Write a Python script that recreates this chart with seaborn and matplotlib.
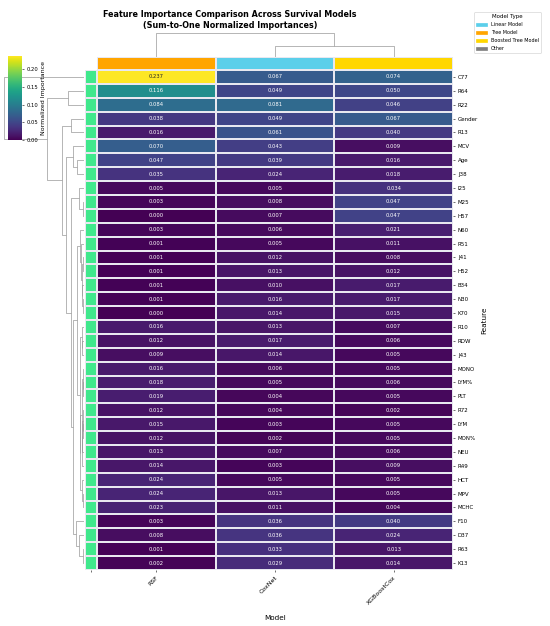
import numpy as np
import pandas as pd
import matplotlib
matplotlib.use('Agg')
import matplotlib.pyplot as plt
from matplotlib.patches import Patch
from scipy.cluster import hierarchy
import seaborn as sns

features = ['C77', 'R64', 'R22', 'Gender', 'R13', 'MCV', 'Age', 'J38', 'I25', 'M25',
            'H57', 'N60', 'R51', 'J41', 'B34', 'N30', 'K70', 'H52', 'R10', 'RDW',
            'J43', 'MONO', 'LYM%', 'PLT', 'R72', 'LYM', 'MON%', 'NEU', 'R49', 'HCT',
            'MPV', 'MCHC', 'F10', 'D37', 'R63', 'K13']
rsf = [0.237, 0.116, 0.084, 0.038, 0.016, 0.070, 0.047, 0.035, 0.005, 0.003,
       0.000, 0.003, 0.001, 0.001, 0.001, 0.001, 0.000, 0.001, 0.016, 0.012,
       0.009, 0.016, 0.018, 0.019, 0.012, 0.015, 0.012, 0.013, 0.014, 0.024,
       0.024, 0.023, 0.003, 0.008, 0.001, 0.002]
coxnet = [0.067, 0.049, 0.081, 0.049, 0.061, 0.043, 0.039, 0.024, 0.005, 0.008,
          0.007, 0.006, 0.005, 0.012, 0.010, 0.016, 0.014, 0.013, 0.013, 0.017,
          0.014, 0.006, 0.005, 0.004, 0.004, 0.003, 0.002, 0.007, 0.003, 0.005,
          0.013, 0.011, 0.036, 0.036, 0.033, 0.029]
xgb = [0.074, 0.050, 0.046, 0.067, 0.040, 0.009, 0.016, 0.018, 0.034, 0.047,
       0.047, 0.021, 0.011, 0.008, 0.017, 0.017, 0.015, 0.012, 0.007, 0.006,
       0.005, 0.005, 0.006, 0.005, 0.002, 0.005, 0.005, 0.006, 0.009, 0.005,
       0.005, 0.004, 0.040, 0.024, 0.013, 0.014]
models = ['RSF', 'CoxNet', 'XGBoostCox']
model_type = {'RSF': 'Tree Model', 'CoxNet': 'Linear Model', 'XGBoostCox': 'Boosted Tree Model'}
type_colors = {'Linear Model': '#5BCFEA', 'Tree Model': '#FFA500',
               'Boosted Tree Model': '#FFD700', 'Other': '#808080'}

imp = pd.DataFrame({'RSF': rsf, 'CoxNet': coxnet, 'XGBoostCox': xgb}, index=features)
imp.index.name = 'Feature'
imp.columns.name = 'Model'

col_colors = pd.Series([type_colors[model_type[m]] for m in models], index=models)
row_colors = pd.Series(['#40E88C'] * len(features), index=features)

# same tree as average/euclidean, branches flipped so leaves follow the listed order
Z = hierarchy.linkage(imp.values, method='average', metric='euclidean')
n = len(features)
members = {i: [i] for i in range(n)}
for k in range(len(Z)):
    a, b = int(Z[k, 0]), int(Z[k, 1])
    if np.mean(members[a]) > np.mean(members[b]):
        Z[k, 0], Z[k, 1] = b, a
    members[n + k] = members[a] + members[b]

cg = sns.clustermap(imp, row_linkage=Z, cmap='viridis',
                    annot=True, fmt='.3f', annot_kws={'size': 7.5},
                    linewidths=0.5, linecolor='#e8e8f0',
                    row_colors=row_colors, col_colors=col_colors,
                    figsize=(11, 12.52),
                    cbar_kws={'label': 'Normalized Importance'},
                    tree_kws={'linewidths': 1.0, 'colors': '#999999'})

W, H = 550, 626
def put(ax, x0, y0, x1, y1):
    ax.set_position([x0 / W, 1 - y1 / H, (x1 - x0) / W, (y1 - y0) / H])

put(cg.ax_heatmap, 97, 70, 453, 570)
put(cg.ax_row_colors, 85, 70, 97, 570)
put(cg.ax_col_colors, 97, 57, 453, 70)
put(cg.ax_col_dendrogram, 97, 32, 453, 57)
put(cg.ax_row_dendrogram, 0, 70, 84, 570)
put(cg.ax_cbar, 8, 56, 22, 140)

cg.ax_col_colors.set_yticks([])
cg.ax_col_colors.tick_params(left=False, right=False)

hm = cg.ax_heatmap
hm.set_xlabel('Model', fontsize=10.5, labelpad=14)
hm.set_ylabel('Feature', fontsize=10.5)
hm.tick_params(axis='y', labelsize=8)
hm.tick_params(axis='x', labelsize=9)
plt.setp(hm.get_xticklabels(), rotation=45, ha='right', rotation_mode='anchor')
cg.ax_cbar.tick_params(labelsize=7.5)
cg.ax_cbar.yaxis.label.set_size(9)

cg.figure.text(230 / W, 1 - 20 / H,
               'Feature Importance Comparison Across Survival Models\n(Sum-to-One Normalized Importances)',
               ha='center', va='center', fontsize=11.5, fontweight='bold')

handles = [Patch(color=type_colors[t], label=t) for t in type_colors]
cg.figure.legend(handles=handles, title='Model Type', loc='upper right',
                 bbox_to_anchor=(543 / W, 1 - 10 / H), fontsize=7, title_fontsize=8,
                 handlelength=2.2, handleheight=0.6, labelspacing=0.6)

cg.figure.savefig('out.png', dpi=50)
